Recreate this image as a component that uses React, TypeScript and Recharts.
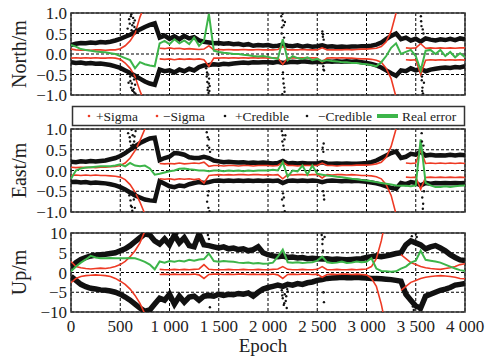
import React from "react";
import { ComposedChart, Line, Scatter, XAxis, YAxis, CartesianGrid, ReferenceArea } from "recharts";

const RED = "#ee3a24";
const BLACK = "#111111";
const GREEN = "#3db54a";
const FONT = "'Liberation Serif', serif";

// sampling grid, one value every 50 epochs
const epochs = Array.from({ length: 81 }, (_, i) => i * 50);

const xTicks = [0, 500, 1000, 1500, 2000, 2500, 3000, 3500, 4000];
const xTickLabels = ["0", "500", "1 000", "1 500", "2 000", "2 500", "3 000", "3 500", "4 000"];
const enTicks = [-1, -0.5, 0, 0.5, 1];
const enTickLabels = ["\u22121.0", "\u22120.5", "0.0", "0.5", "1.0"];
const upTicks = [-10, -5, 0, 5, 10];
const upTickLabels = ["\u221210", "\u22125", "0", "5", "10"];

// ---- North ----
const nUpSig = [
  0.12, 0.1, 0.09, 0.1, 0.09, 0.1, 0.1, 0.09, 0.1, 0.1,
  0.13, 0.2, 0.32, 0.5, 0.9, 1.2, 1.5, null, 0.14, 0.13,
  0.15, 0.13, 0.14, 0.12, 0.13, 0.12, 0.11, 0.12, 0.2, 0.1,
  0.11, 0.1, 0.11, 0.1, 0.1, 0.11, 0.1, 0.1, 0.11, 0.1,
  0.1, 0.1, 0.11, 0.18, 0.1, 0.1, 0.1, 0.11, 0.1, 0.1,
  0.1, 0.15, 0.1, 0.1, 0.1, 0.1, 0.11, 0.1, 0.11, 0.12,
  0.12, 0.13, 0.14, 0.18, 0.3, 0.55, 1.0, null, 0.15, 0.14,
  0.15, 0.25, 0.14, 0.15, 0.14, 0.15, 0.14, 0.15, 0.14, 0.15,
  0.15,
];
const nLoSig = [
  -0.1, -0.09, -0.1, -0.09, -0.1, -0.09, -0.1, -0.1, -0.09, -0.1,
  -0.13, -0.22, -0.35, -0.55, -0.9, -1.2, -1.5, null, -0.12, -0.13,
  -0.12, -0.14, -0.12, -0.13, -0.12, -0.13, -0.12, -0.14, -0.3, -0.1,
  -0.1, -0.09, -0.1, -0.09, -0.1, -0.09, -0.1, -0.09, -0.1, -0.09,
  -0.1, -0.09, -0.1, -0.25, -0.1, -0.09, -0.1, -0.09, -0.1, -0.09,
  -0.1, -0.2, -0.1, -0.09, -0.1, -0.09, -0.1, -0.1, -0.11, -0.12,
  -0.12, -0.13, -0.15, -0.2, -0.35, -0.6, -1.05, null, -0.14, -0.15,
  -0.14, -0.5, -0.15, -0.14, -0.15, -0.14, -0.15, -0.14, -0.15, -0.14,
  -0.15,
];
const nUpCred = [
  0.22, 0.25, 0.27, 0.26, 0.28, 0.27, 0.29, 0.28, 0.3, 0.33,
  0.37, 0.42, 0.47, 0.53, 0.6, 0.66, 0.71, 0.75, 0.4, 0.45,
  0.37, 0.43, 0.36, 0.44, 0.38, 0.41, 0.33, 0.3, 0.28, 0.26,
  0.27, 0.25, 0.26, 0.24, 0.25, 0.22, 0.24, 0.2, 0.22, 0.21,
  0.22, 0.19, 0.2, 0.23, 0.2, 0.19, 0.21, 0.18, 0.2, 0.18,
  0.19, 0.21, 0.18, 0.19, 0.17, 0.18, 0.17, 0.18, 0.18, 0.19,
  0.19, 0.2, 0.23, 0.28, 0.36, 0.44, 0.5, 0.36, 0.4, 0.33,
  0.37, 0.3, 0.38, 0.35, 0.33, 0.36, 0.34, 0.37, 0.34, 0.38,
  0.36,
];
const nLoCred = [
  -0.2, -0.22, -0.21, -0.23, -0.22, -0.24, -0.23, -0.25, -0.27, -0.3,
  -0.34, -0.4, -0.46, -0.53, -0.6, -0.67, -0.72, -0.75, -0.38, -0.42,
  -0.4, -0.45, -0.38, -0.42, -0.36, -0.4, -0.32, -0.28, -0.27, -0.25,
  -0.26, -0.24, -0.25, -0.23, -0.22, -0.21, -0.22, -0.2, -0.21, -0.2,
  -0.2, -0.21, -0.19, -0.22, -0.2, -0.19, -0.2, -0.18, -0.19, -0.2,
  -0.19, -0.2, -0.18, -0.19, -0.18, -0.19, -0.18, -0.19, -0.18, -0.2,
  -0.22, -0.24, -0.28, -0.33, -0.4, -0.47, -0.53, -0.4, -0.42, -0.35,
  -0.4, -0.36, -0.42, -0.38, -0.36, -0.34, -0.33, -0.34, -0.32, -0.33,
  -0.3,
];
const nErr = [
  0.22, 0.18, 0.12, 0.1, 0.08, 0.06, 0.05, 0.04, 0.02, 0.0,
  -0.05, -0.1, -0.15, -0.35, -0.2, -0.25, -0.28, -0.3, 0.26, 0.32,
  0.24, 0.36, 0.26, 0.33, 0.24, 0.4, 0.2, 0.32, 0.98, 0.08,
  0.05, 0.03, 0.02, 0.0, 0.0, -0.02, -0.03, -0.05, -0.06, -0.05,
  -0.07, -0.1, -0.12, 0.36, -0.15, -0.05, -0.1, -0.12, -0.08, -0.15,
  -0.12, -0.18, -0.15, -0.17, -0.18, -0.2, -0.2, -0.22, -0.22, -0.24,
  -0.25, -0.27, -0.3, -0.2, -0.05, 0.15, 0.26, 0.0, 0.05, 0.1,
  -0.05, -0.4, 0.08, 0.1, 0.0, 0.1, -0.05, 0.05, -0.08, 0.02,
  -0.08,
];
const nOut = [
  [575, 0.62], [590, 0.85], [600, -0.55], [605, 0.48], [612, 0.97], [618, -0.72], [622, 0.7],
  [628, -0.9], [633, 0.55], [640, -0.62], [648, 0.82], [655, -0.97], [610, -0.82], [660, 0.6],
  [596, 0.74], [603, -0.66], [615, 0.58], [625, -0.48], [631, 0.88], [637, -0.85], [644, 0.66],
  [651, -0.75], [608, 0.92], [620, -0.88], [635, 0.76], [642, -0.94], [584, -0.7], [666, -0.6],
  [1372, -0.35], [1378, -0.55], [1384, -0.68], [1390, -0.82], [1396, -0.95], [1402, -0.6], [1408, -0.78],
  [1381, -0.45], [1387, -0.88], [1393, -0.5], [1399, -0.72], [1405, -0.9],
  [2135, 0.92], [2142, 0.65], [2148, 0.98], [2152, -0.45], [2158, -0.72], [2163, 0.4], [2168, -0.92],
  [2172, 0.78], [2145, -0.98], [2139, 0.5], [2150, 0.82], [2155, -0.6], [2160, 0.7], [2166, -0.82],
  [2552, 0.55], [2557, 0.42], [2561, -0.3], [2565, 0.35], [2569, -0.4], [2559, 0.48], [2563, -0.38],
  [3552, 0.92], [3558, 0.68], [3563, -0.55], [3568, -0.82], [3573, -0.96], [3578, 0.5], [3583, -0.7],
  [3555, 0.8], [3561, -0.64], [3566, -0.9], [3571, 0.6],
];

// ---- East ----
const eUpSig = [
  0.08, 0.07, 0.08, 0.07, 0.08, 0.07, 0.08, 0.08, 0.09, 0.1,
  0.12, 0.18, 0.3, 0.48, 0.72, 1.0, 1.35, null, 0.17, 0.16,
  0.17, 0.16, 0.18, 0.16, 0.17, 0.18, 0.17, 0.2, 0.1, 0.12,
  0.12, 0.11, 0.12, 0.12, 0.11, 0.12, 0.12, 0.11, 0.12, 0.12,
  0.12, 0.11, 0.12, 0.2, 0.12, 0.12, 0.11, 0.12, 0.12, 0.12,
  0.12, 0.18, 0.12, 0.12, 0.11, 0.12, 0.12, 0.12, 0.13, 0.13,
  0.13, 0.14, 0.16, 0.2, 0.32, 0.58, 1.0, null, 0.18, 0.17,
  0.18, 0.5, 0.17, 0.18, 0.17, 0.18, 0.17, 0.18, 0.17, 0.18,
  0.17,
];
const eLoSig = [
  -0.12, -0.11, -0.12, -0.11, -0.12, -0.11, -0.12, -0.12, -0.13, -0.14,
  -0.16, -0.22, -0.34, -0.52, -0.76, -1.05, -1.4, null, -0.2, -0.21,
  -0.2, -0.22, -0.2, -0.21, -0.2, -0.22, -0.2, -0.3, -0.12, -0.11,
  -0.1, -0.11, -0.1, -0.11, -0.1, -0.1, -0.11, -0.1, -0.1, -0.11,
  -0.1, -0.11, -0.1, -0.2, -0.1, -0.11, -0.1, -0.1, -0.11, -0.1,
  -0.1, -0.18, -0.1, -0.11, -0.1, -0.1, -0.11, -0.1, -0.11, -0.12,
  -0.12, -0.13, -0.15, -0.2, -0.34, -0.6, -1.05, null, -0.16, -0.17,
  -0.16, -0.45, -0.17, -0.16, -0.17, -0.16, -0.17, -0.16, -0.17, -0.16,
  -0.17,
];
const eUpCred = [
  0.21, 0.2, 0.22, 0.21, 0.23, 0.22, 0.23, 0.24, 0.27, 0.3,
  0.35, 0.42, 0.5, 0.58, 0.66, 0.72, 0.77, 0.79, 0.25, 0.3,
  0.33, 0.42, 0.41, 0.38, 0.32, 0.3, 0.3, 0.33, 0.3, 0.24,
  0.22, 0.2, 0.21, 0.2, 0.19, 0.2, 0.18, 0.19, 0.18, 0.19,
  0.18, 0.17, 0.18, 0.23, 0.17, 0.18, 0.17, 0.18, 0.17, 0.17,
  0.17, 0.2, 0.17, 0.16, 0.17, 0.16, 0.17, 0.16, 0.16, 0.17,
  0.18, 0.2, 0.24, 0.3, 0.36, 0.42, 0.46, 0.3, 0.33, 0.4,
  0.38, 0.45, 0.36, 0.38, 0.36, 0.37, 0.36, 0.38, 0.36, 0.38,
  0.37,
];
const eLoCred = [
  -0.28, -0.27, -0.29, -0.28, -0.3, -0.29, -0.3, -0.31, -0.33, -0.36,
  -0.4, -0.46, -0.53, -0.6, -0.65, -0.7, -0.72, -0.73, -0.26, -0.32,
  -0.38, -0.4, -0.36, -0.38, -0.33, -0.3, -0.28, -0.3, -0.28, -0.25,
  -0.24, -0.25, -0.24, -0.25, -0.24, -0.25, -0.24, -0.25, -0.24, -0.25,
  -0.24, -0.25, -0.24, -0.3, -0.25, -0.24, -0.25, -0.24, -0.25, -0.24,
  -0.25, -0.28, -0.25, -0.24, -0.25, -0.26, -0.25, -0.26, -0.25, -0.26,
  -0.27, -0.29, -0.31, -0.34, -0.38, -0.42, -0.44, -0.3, -0.33, -0.28,
  -0.3, -0.36, -0.3, -0.32, -0.3, -0.31, -0.3, -0.31, -0.3, -0.31,
  -0.3,
];
const eErr = [
  -0.2, 0.0, 0.05, 0.07, 0.08, 0.09, 0.1, 0.1, 0.1, 0.12,
  0.15, 0.1, 0.18, 0.12, 0.1, 0.12, 0.05, -0.1, -0.08, -0.05,
  -0.02, 0.0, 0.04, 0.05, 0.03, 0.02, 0.0, 0.0, -0.02, 0.0,
  0.0, -0.02, 0.0, -0.01, 0.0, -0.02, 0.0, -0.01, 0.0, 0.0,
  0.0, 0.02, 0.0, 0.2, -0.15, 0.0, -0.02, 0.12, -0.1, 0.12,
  -0.08, -0.1, -0.12, -0.13, -0.15, -0.16, -0.18, -0.2, -0.21, -0.23,
  -0.24, -0.26, -0.28, -0.3, -0.32, -0.34, -0.36, -0.37, -0.37, -0.38,
  -0.36, 0.75, -0.3, -0.36, -0.4, -0.4, -0.38, -0.4, -0.38, -0.37,
  -0.36,
];
const eOut = [
  [580, 0.9], [592, -0.6], [600, 0.7], [608, -0.85], [615, 0.98], [622, -0.97], [630, 0.62],
  [638, -0.7], [645, 0.82], [652, -0.55], [660, 0.55], [596, 0.8], [604, -0.72], [611, 0.6],
  [618, -0.88], [626, 0.85], [634, -0.6], [641, 0.7], [648, -0.9], [656, 0.95],
  [1378, 0.92], [1385, 0.6], [1390, -0.6], [1395, -0.9], [1400, 0.75], [1406, -0.98], [1412, 0.45],
  [1382, -0.75], [1388, 0.8], [1398, -0.5], [1403, 0.55],
  [2140, 0.95], [2146, 0.7], [2152, -0.55], [2158, -0.85], [2164, 0.5], [2170, -0.98], [2176, 0.85],
  [2143, -0.7], [2149, 0.85], [2155, 0.6], [2161, -0.65], [2167, 0.75],
  [2555, 0.55], [2560, -0.5], [2565, 0.65], [2570, -0.7], [2562, 0.45], [2567, -0.6],
  [3560, 0.9], [3566, -0.65], [3572, -0.92], [3578, 0.6], [3584, -0.5], [3563, 0.7], [3575, -0.8],
];

// ---- Up ----
const uUpSig = [
  2.8, 1.5, 1.2, 1.0, 0.9, 1.0, 1.1, 1.0, 1.2, 1.5,
  2.0, 2.8, 4.0, 5.5, 7.5, 10.5, 14, null, 0.8, 0.7,
  0.7, 0.8, 0.7, 0.8, 0.7, 0.8, 0.9, 2.0, 0.8, 0.7,
  0.7, 0.7, 0.8, 0.7, 0.7, 0.8, 0.7, 0.7, 0.8, 0.7,
  0.7, 0.8, 0.9, 1.5, 0.8, 0.7, 0.7, 0.8, 0.7, 0.7,
  0.8, 1.5, 0.7, 0.7, 0.8, 0.7, 0.7, 0.8, 0.7, 0.8,
  0.9, 1.5, 3.5, 8.0, 14, null, null, 4.5, 3.5, 2.5,
  2.0, 1.5, 1.2, 1.0, 0.9, 0.8, 1.0, 1.2, 1.5, 2.0,
  2.2,
];
const uLoSig = [
  -2.6, -1.5, -1.0, -0.8, -0.7, -0.6, -0.7, -0.8, -1.0, -1.5,
  -2.2, -3.0, -4.2, -5.8, -7.8, -10.5, -14, null, -0.5, -0.4,
  -0.5, -0.4, -0.5, -0.4, -0.5, -0.4, -0.6, -1.5, -0.5, -0.4,
  -0.4, -0.5, -0.4, -0.5, -0.4, -0.4, -0.5, -0.4, -0.5, -0.4,
  -0.5, -0.4, -0.6, -1.5, -0.5, -0.4, -0.5, -0.4, -0.4, -0.5,
  -0.4, -1.2, -0.5, -0.4, -0.5, -0.4, -0.4, -0.5, -0.4, -0.5,
  -0.6, -1.5, -3.5, -8.0, -14, null, null, -4.5, -3.5, -2.5,
  -2.0, -1.5, -1.2, -1.0, -0.9, -0.8, -0.9, -1.0, -1.2, -1.5,
  -1.6,
];
const uUpCred = [
  1.2, 2.5, 3.3, 3.8, 4.2, 4.4, 4.5, 4.6, 4.8, 5.0,
  5.5, 6.0, 6.8, 7.8, 8.8, 9.8, 9.5, 8.0, 7.2, 8.5,
  7.0, 9.5, 7.5, 8.8, 6.8, 6.5, 9.8, 7.0, 6.8, 6.5,
  6.2, 6.5, 6.0, 6.2, 5.8, 6.0, 5.5, 5.8, 6.5, 5.0,
  4.5, 4.2, 4.0, 4.2, 3.8, 3.9, 3.7, 3.8, 3.5, 3.6,
  3.5, 3.4, 3.5, 3.3, 3.4, 3.3, 3.2, 3.3, 3.4, 3.5,
  3.8, 4.0, 4.2, 4.0, 4.2, 4.5, 4.8, 5.0, 7.0, 8.0,
  7.5, 7.0, 6.0, 6.5, 6.8, 6.2, 5.5, 4.5, 3.8, 3.2,
  3.0,
];
const uLoCred = [
  -1.0, -2.0, -3.0, -3.6, -4.0, -4.2, -4.4, -4.5, -4.7, -5.0,
  -5.5, -6.2, -7.0, -8.0, -9.0, -9.8, -9.5, -8.0, -6.5, -7.0,
  -5.5, -8.0, -6.0, -7.5, -6.2, -6.0, -7.0, -6.0, -5.8, -6.0,
  -5.5, -5.8, -5.5, -5.6, -5.3, -5.5, -5.2, -6.0, -5.0, -4.2,
  -3.8, -3.5, -3.2, -3.5, -3.0, -3.2, -2.8, -3.0, -2.6, -2.4,
  -2.0, -1.8, -1.5, -1.4, -1.3, -1.2, -1.3, -1.3, -1.2, -1.3,
  -1.4, -1.5, -1.5, -1.6, -1.7, -1.8, -2.0, -2.2, -5.5, -7.0,
  -8.5, -9.0, -6.0, -5.5, -5.0, -4.5, -4.2, -3.8, -3.2, -3.0,
  -2.8,
];
const uErr = [
  0.3, 1.5, 2.5, 3.3, 4.2, 3.8, 3.6, 3.6, 3.7, 3.6,
  3.6, 3.6, 3.7, 3.6, 3.2, 2.7, 2.0, 0.8, 2.8, 2.5,
  2.9, 2.7, 3.0, 2.8, 3.2, 3.0, 3.3, 3.4, 4.8, 2.9,
  2.7, 2.9, 2.8, 2.7, 2.5, 2.4, 2.5, 2.3, 2.4, 2.2,
  2.3, 2.5, 4.0, 5.8, 2.6, 2.5, 2.6, 2.4, 2.5, 2.6,
  3.0, 4.0, 2.6, 2.4, 2.5, 2.8, 2.4, 2.5, 2.8, 2.6,
  2.7, 3.6, 1.0, 0.4, 0.3, 0.2, 0.3, 1.0, 1.5, 2.5,
  3.0, 5.5, 3.2, 3.0, 2.8, 2.5, 2.0, 1.5, 1.0, 0.6,
  0.4,
];
const uOut = [
  [1040, 9.5], [1060, 8.8], [1080, 9.8], [1390, 9.5], [1400, 8.5], [1410, -8.8],
  [2140, -4.5], [2150, -6.5], [2160, -8.2], [2170, -5.5], [2180, -7.2], [2190, -9.0], [2200, -4.8],
  [2145, -5.8], [2165, -7.8], [2185, -6.0], [2195, -4.2],
  [2545, 9.5], [2552, 7.2], [2558, 5.5], [2563, -5.0], [2568, -7.5], [2575, 9.0], [2555, 8.4],
  [3460, 9.2], [3480, -9.5], [3500, 9.8], [3520, -8.8], [3540, -9.6], [3470, -8.6], [3510, 9.0],
];

const makeRows = (upSig, loSig, upCred, loCred, err) =>
  epochs.map((epoch, i) => ({
    epoch,
    upSig: upSig[i],
    loSig: loSig[i],
    upCred: upCred[i],
    loCred: loCred[i],
    err: err[i],
  }));

const toPoints = (list) => list.map(([epoch, v]) => ({ epoch, v }));

const tickStyle = { fontSize: 17, fill: "#222", style: { fontFamily: FONT } };

const OutDot = (props) => <circle cx={props.cx} cy={props.cy} r={1.2} fill={BLACK} />;

function Panel({ top, height, plotHeight, rows, outliers, ticks, tickLabels, title, showX, credWidth }) {
  const lo = ticks[0];
  const hi = ticks[ticks.length - 1];
  const mid = 13 + plotHeight / 2;
  return (
    <div style={{ position: "absolute", left: 0, top }}>
      <ComposedChart
        width={490}
        height={height}
        data={rows}
        margin={{ top: 13, right: 25, bottom: showX ? 0 : height - 13 - plotHeight, left: 11 }}
      >
        <CartesianGrid stroke="#000" strokeDasharray="3 2" />
        <XAxis
          type="number"
          dataKey="epoch"
          domain={[0, 4000]}
          ticks={xTicks}
          interval={0}
          hide={!showX}
          height={height - 13 - plotHeight}
          allowDataOverflow
          tickLine={false}
          axisLine={false}
          tickSize={6}
          tickMargin={2}
          tick={tickStyle}
          tickFormatter={(v) => xTickLabels[xTicks.indexOf(v)]}
          label={{
            content: () => (
              <text x={263} y={132} textAnchor="middle" fontSize={19} style={{ fontFamily: FONT }} fill="#222">
                Epoch
              </text>
            ),
          }}
        />
        <YAxis
          type="number"
          domain={[lo, hi]}
          ticks={ticks}
          interval={0}
          allowDataOverflow
          width={60}
          tickLine={false}
          axisLine={false}
          tickSize={2}
          tickMargin={2}
          tick={tickStyle}
          tickFormatter={(v) => tickLabels[ticks.indexOf(v)]}
          label={{
            content: () => (
              <text
                x={19}
                y={mid}
                transform={`rotate(-90 19 ${mid})`}
                textAnchor="middle"
                dominantBaseline="central"
                fontSize={20}
                style={{ fontFamily: FONT }}
                fill="#222"
              >
                {title}
              </text>
            ),
          }}
        />
        <Line dataKey="upCred" stroke={BLACK} strokeWidth={credWidth} dot={false} isAnimationActive={false} />
        <Line dataKey="loCred" stroke={BLACK} strokeWidth={credWidth} dot={false} isAnimationActive={false} />
        <Line dataKey="upSig" stroke={RED} strokeWidth={1.6} dot={false} isAnimationActive={false} />
        <Line dataKey="loSig" stroke={RED} strokeWidth={1.6} dot={false} isAnimationActive={false} />
        <Scatter data={outliers} dataKey="v" shape={OutDot} isAnimationActive={false} />
        <Line dataKey="err" stroke={GREEN} strokeWidth={2} dot={false} isAnimationActive={false} />
        <ReferenceArea x1={0} x2={4000} y1={lo} y2={hi} fill="none" stroke="#333" strokeWidth={1.5} />
      </ComposedChart>
    </div>
  );
}

function LegendBox() {
  const t = { fontSize: 13.5, fill: "#222", style: { fontFamily: FONT } };
  return (
    <svg width={490} height={30} style={{ position: "absolute", left: 0, top: 100 }}>
      <rect x={72.5} y={6.5} width={392} height={19} fill="#fff" stroke="#333" strokeWidth={1.5} />
      <circle cx={89} cy={16} r={1.3} fill={RED} />
      <text x={96} y={21} {...t}>+Sigma</text>
      <circle cx={157} cy={16} r={1.3} fill={RED} />
      <text x={163} y={21} {...t}>{"\u2212Sigma"}</text>
      <circle cx={225} cy={16} r={1.3} fill={BLACK} />
      <text x={235} y={21} {...t}>+Credible</text>
      <circle cx={307} cy={16} r={1.3} fill={BLACK} />
      <text x={318} y={21} {...t}>{"\u2212Credible"}</text>
      <line x1={377} x2={398} y1={16} y2={16} stroke={GREEN} strokeWidth={4} />
      <text x={402} y={21} {...t}>Real error</text>
    </svg>
  );
}

export default function App() {
  return (
    <div
      style={{
        position: "absolute",
        left: 0,
        top: 0,
        width: 490,
        height: 358,
        background: "#fff",
        overflow: "hidden",
        fontFamily: FONT,
      }}
    >
      <Panel
        top={0}
        height={108}
        plotHeight={82}
        rows={makeRows(nUpSig, nLoSig, nUpCred, nLoCred, nErr)}
        outliers={toPoints(nOut)}
        ticks={enTicks}
        tickLabels={enTickLabels}
        title="North/m"
        showX={false}
        credWidth={4.5}
      />
      <Panel
        top={116}
        height={109}
        plotHeight={83}
        rows={makeRows(eUpSig, eLoSig, eUpCred, eLoCred, eErr)}
        outliers={toPoints(eOut)}
        ticks={enTicks}
        tickLabels={enTickLabels}
        title="East/m"
        showX={false}
        credWidth={4.5}
      />
      <LegendBox />
      <Panel
        top={220}
        height={138}
        plotHeight={79}
        rows={makeRows(uUpSig, uLoSig, uUpCred, uLoCred, uErr)}
        outliers={toPoints(uOut)}
        ticks={upTicks}
        tickLabels={upTickLabels}
        title="Up/m"
        showX={true}
        credWidth={5.5}
      />
    </div>
  );
}
